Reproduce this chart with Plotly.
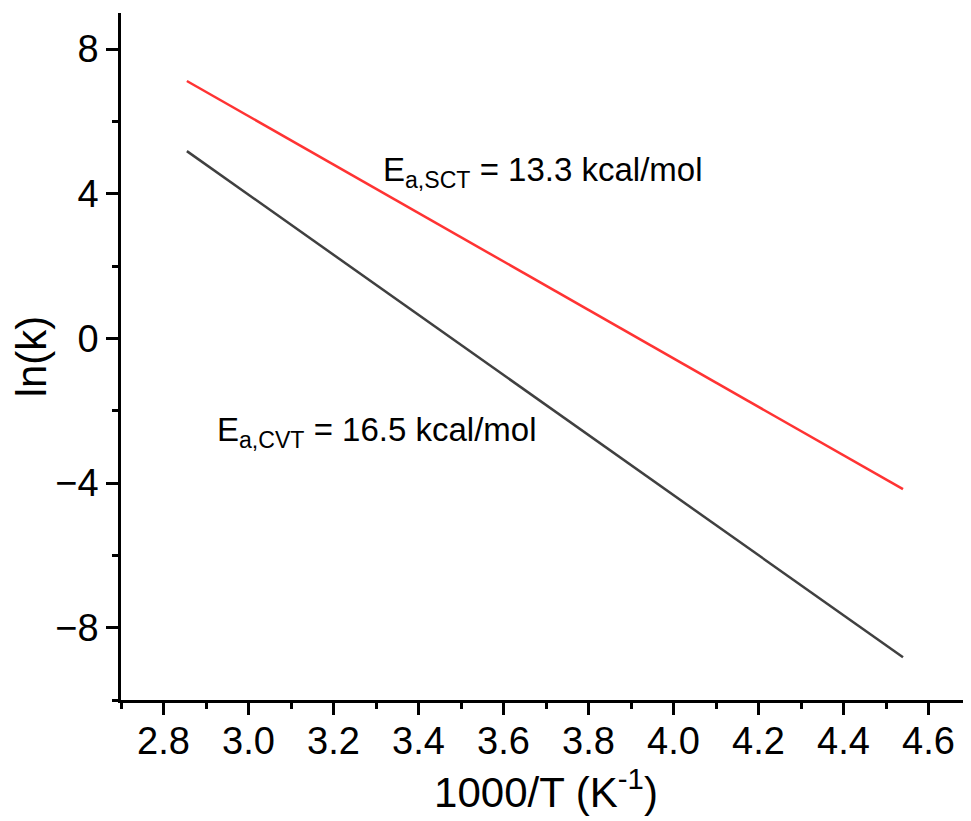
import plotly.graph_objects as go

# Data (1000/T in K^-1, ln(k))
x_vals = [2.855, 4.54]
ln_k_sct = [7.12, -4.17]
ln_k_cvt = [5.18, -8.82]

label_sct = "E<sub>a,SCT</sub> = 13.3 kcal/mol"
label_cvt = "E<sub>a,CVT</sub> = 16.5 kcal/mol"

x_ticks = [2.8, 3.0, 3.2, 3.4, 3.6, 3.8, 4.0, 4.2, 4.4, 4.6]
y_ticks = [-8, -4, 0, 4, 8]

FONT = "Liberation Sans, Arial, sans-serif"

fig = go.Figure()
fig.add_trace(go.Scatter(x=x_vals, y=ln_k_sct, mode="lines",
                         line=dict(color="#FF3333", width=2.5), showlegend=False))
fig.add_trace(go.Scatter(x=x_vals, y=ln_k_cvt, mode="lines",
                         line=dict(color="#404040", width=2.5), showlegend=False))

fig.add_annotation(x=3.312, y=4.6, xref="x", yref="y", text=label_sct,
                   showarrow=False, xanchor="left", yanchor="middle",
                   font=dict(family=FONT, size=33, color="black"))
fig.add_annotation(x=2.922, y=-2.6, xref="x", yref="y", text=label_cvt,
                   showarrow=False, xanchor="left", yanchor="middle",
                   font=dict(family=FONT, size=33, color="black"))

axis_common = dict(
    showline=True, linecolor="black", linewidth=2.5,
    ticks="outside", ticklen=12, tickwidth=2.5, tickcolor="black",
    showgrid=False, zeroline=False, mirror=False,
    tickfont=dict(family=FONT, size=38, color="black"),
    automargin=False,
)

fig.update_xaxes(
    range=[2.7, 4.7], tickvals=x_ticks, ticktext=[f"{v:.1f}" for v in x_ticks],
    minor=dict(dtick=0.1, tick0=2.7, ticklen=6, tickwidth=2.5, tickcolor="black", ticks="outside"),
    title=dict(text="1000/T (K<sup>-1</sup>)", font=dict(family=FONT, size=42, color="black"), standoff=8),
    ticklabelstandoff=-6,
    **axis_common,
)
fig.update_yaxes(
    range=[-10, 9], tickvals=y_ticks, ticktext=["\u22128", "\u22124", "0", "4", "8"],
    minor=dict(dtick=2, tick0=0, ticklen=6, tickwidth=2.5, tickcolor="black", ticks="outside"),
    title=dict(text="ln(k)", font=dict(family=FONT, size=42, color="black"), standoff=4),
    **axis_common,
)

fig.update_layout(
    width=963, height=813,
    margin=dict(l=113, r=0, t=5, b=121),
    plot_bgcolor="white", paper_bgcolor="white",
    font=dict(family=FONT, color="black"),
)

fig.write_html("out.html")
